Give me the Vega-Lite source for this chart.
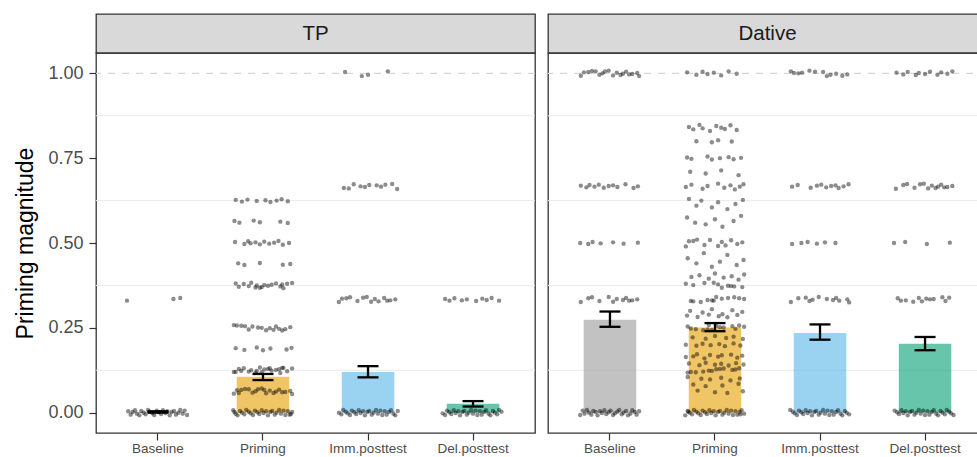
{
"$schema":"https://vega.github.io/schema/vega-lite/v6.json",
"background":"white",
"padding":{"left":14,"top":13,"right":0,"bottom":0},
"datasets":{
"bars":[
{"p":"TP","c":"Baseline","m":0.002,"lo":0.0,"hi":0.004},
{"p":"TP","c":"Priming","m":0.106,"lo":0.096,"hi":0.114},
{"p":"TP","c":"Imm.posttest","m":0.12,"lo":0.104,"hi":0.137},
{"p":"TP","c":"Del.posttest","m":0.026,"lo":0.018,"hi":0.034},
{"p":"Dative","c":"Baseline","m":0.274,"lo":0.253,"hi":0.298},
{"p":"Dative","c":"Priming","m":0.251,"lo":0.240,"hi":0.264},
{"p":"Dative","c":"Imm.posttest","m":0.235,"lo":0.215,"hi":0.260},
{"p":"Dative","c":"Del.posttest","m":0.203,"lo":0.184,"hi":0.223}
],
"grid":[{"g":0.125},{"g":0.375},{"g":0.625},{"g":0.875}],
"hline":[{"h":1}],
"pts":[
{"p":"TP","c":"Baseline","y":0.004,"j":-0.48},{"p":"TP","c":"Baseline","y":-0.006,"j":-0.44},{"p":"TP","c":"Baseline","y":0.002,"j":-0.41},{"p":"TP","c":"Baseline","y":0.007,"j":-0.37},{"p":"TP","c":"Baseline","y":-0.003,"j":-0.34},{"p":"TP","c":"Baseline","y":-0.008,"j":-0.30},{"p":"TP","c":"Baseline","y":0.005,"j":-0.27},{"p":"TP","c":"Baseline","y":0,"j":-0.23},{"p":"TP","c":"Baseline","y":-0.005,"j":-0.20},{"p":"TP","c":"Baseline","y":0.008,"j":-0.16},{"p":"TP","c":"Baseline","y":0.003,"j":-0.13},{"p":"TP","c":"Baseline","y":-0.002,"j":-0.09},{"p":"TP","c":"Baseline","y":-0.007,"j":-0.06},{"p":"TP","c":"Baseline","y":0.006,"j":-0.02},{"p":"TP","c":"Baseline","y":0.001,"j":0.01},{"p":"TP","c":"Baseline","y":-0.004,"j":0.05},{"p":"TP","c":"Baseline","y":0.007,"j":0.08},{"p":"TP","c":"Baseline","y":-0.001,"j":0.12},{"p":"TP","c":"Baseline","y":0.004,"j":0.15},{"p":"TP","c":"Baseline","y":-0.008,"j":0.19},{"p":"TP","c":"Baseline","y":0.002,"j":0.22},{"p":"TP","c":"Baseline","y":0.005,"j":0.26},{"p":"TP","c":"Baseline","y":-0.006,"j":0.29},{"p":"TP","c":"Baseline","y":0,"j":0.33},{"p":"TP","c":"Baseline","y":0.008,"j":0.36},{"p":"TP","c":"Baseline","y":-0.003,"j":0.40},{"p":"TP","c":"Baseline","y":0.006,"j":0.43},{"p":"TP","c":"Baseline","y":-0.007,"j":0.47},
{"p":"TP","c":"Baseline","y":0.33,"j":-0.5},{"p":"TP","c":"Baseline","y":0.335,"j":0.25},{"p":"TP","c":"Baseline","y":0.338,"j":0.36},
{"p":"TP","c":"Priming","y":0.007,"j":-0.48},{"p":"TP","c":"Priming","y":-0.003,"j":-0.44},{"p":"TP","c":"Priming","y":-0.008,"j":-0.41},{"p":"TP","c":"Priming","y":0.005,"j":-0.37},{"p":"TP","c":"Priming","y":0,"j":-0.34},{"p":"TP","c":"Priming","y":-0.005,"j":-0.30},{"p":"TP","c":"Priming","y":0.008,"j":-0.27},{"p":"TP","c":"Priming","y":0.003,"j":-0.23},{"p":"TP","c":"Priming","y":-0.002,"j":-0.20},{"p":"TP","c":"Priming","y":-0.007,"j":-0.16},{"p":"TP","c":"Priming","y":0.006,"j":-0.13},{"p":"TP","c":"Priming","y":0.001,"j":-0.09},{"p":"TP","c":"Priming","y":-0.004,"j":-0.06},{"p":"TP","c":"Priming","y":0.007,"j":-0.02},{"p":"TP","c":"Priming","y":-0.001,"j":0.01},{"p":"TP","c":"Priming","y":0.004,"j":0.05},{"p":"TP","c":"Priming","y":-0.008,"j":0.08},{"p":"TP","c":"Priming","y":0.002,"j":0.12},{"p":"TP","c":"Priming","y":0.005,"j":0.15},{"p":"TP","c":"Priming","y":-0.006,"j":0.19},{"p":"TP","c":"Priming","y":0,"j":0.22},{"p":"TP","c":"Priming","y":0.008,"j":0.26},{"p":"TP","c":"Priming","y":-0.003,"j":0.29},{"p":"TP","c":"Priming","y":0.006,"j":0.33},{"p":"TP","c":"Priming","y":-0.007,"j":0.36},{"p":"TP","c":"Priming","y":0.004,"j":0.40},{"p":"TP","c":"Priming","y":-0.006,"j":0.43},{"p":"TP","c":"Priming","y":0.002,"j":0.47},{"p":"TP","c":"Priming","y":0.002,"j":-0.46},{"p":"TP","c":"Priming","y":-0.004,"j":0.45},
{"p":"TP","c":"Priming","y":0.066,"j":-0.42},{"p":"TP","c":"Priming","y":0.058,"j":0.17},{"p":"TP","c":"Priming","y":0.069,"j":-0.08},{"p":"TP","c":"Priming","y":0.061,"j":0.36},{"p":"TP","c":"Priming","y":0.070,"j":-0.29},{"p":"TP","c":"Priming","y":0.057,"j":0.05},{"p":"TP","c":"Priming","y":0.064,"j":0.44},{"p":"TP","c":"Priming","y":0.059,"j":-0.17},{"p":"TP","c":"Priming","y":0.068,"j":0.26},{"p":"TP","c":"Priming","y":0.056,"j":-0.47},{"p":"TP","c":"Priming","y":0.065,"j":0.11},{"p":"TP","c":"Priming","y":0.067,"j":-0.35},{"p":"TP","c":"Priming","y":0.060,"j":0.31},{"p":"TP","c":"Priming","y":0.071,"j":-0.02},{"p":"TP","c":"Priming","y":0.062,"j":0.21},{"p":"TP","c":"Priming","y":0.069,"j":-0.23},{"p":"TP","c":"Priming","y":0.055,"j":0.47},{"p":"TP","c":"Priming","y":0.063,"j":-0.12},{"p":"TP","c":"Priming","y":0.067,"j":0.02},{"p":"TP","c":"Priming","y":0.058,"j":-0.39},
{"p":"TP","c":"Priming","y":0.128,"j":0.26},{"p":"TP","c":"Priming","y":0.120,"j":-0.47},{"p":"TP","c":"Priming","y":0.131,"j":0.11},{"p":"TP","c":"Priming","y":0.123,"j":-0.35},{"p":"TP","c":"Priming","y":0.132,"j":0.31},{"p":"TP","c":"Priming","y":0.119,"j":-0.02},{"p":"TP","c":"Priming","y":0.126,"j":0.21},{"p":"TP","c":"Priming","y":0.121,"j":-0.23},{"p":"TP","c":"Priming","y":0.130,"j":0.47},{"p":"TP","c":"Priming","y":0.118,"j":-0.12},{"p":"TP","c":"Priming","y":0.127,"j":0.02},{"p":"TP","c":"Priming","y":0.129,"j":-0.39},{"p":"TP","c":"Priming","y":0.122,"j":0.39},{"p":"TP","c":"Priming","y":0.133,"j":-0.05},{"p":"TP","c":"Priming","y":0.124,"j":0.14},{"p":"TP","c":"Priming","y":0.131,"j":-0.31},{"p":"TP","c":"Priming","y":0.117,"j":0.28},{"p":"TP","c":"Priming","y":0.125,"j":-0.19},{"p":"TP","c":"Priming","y":0.129,"j":0.08},{"p":"TP","c":"Priming","y":0.120,"j":-0.44},{"p":"TP","c":"Priming","y":0.132,"j":0.33},{"p":"TP","c":"Priming","y":0.123,"j":-0.10},
{"p":"TP","c":"Priming","y":0.19,"j":-0.44},{"p":"TP","c":"Priming","y":0.185,"j":-0.30},{"p":"TP","c":"Priming","y":0.192,"j":-0.10},{"p":"TP","c":"Priming","y":0.184,"j":0.0},{"p":"TP","c":"Priming","y":0.189,"j":0.12},{"p":"TP","c":"Priming","y":0.186,"j":0.38},{"p":"TP","c":"Priming","y":0.191,"j":0.46},
{"p":"TP","c":"Priming","y":0.257,"j":-0.42},{"p":"TP","c":"Priming","y":0.244,"j":0.17},{"p":"TP","c":"Priming","y":0.251,"j":-0.08},{"p":"TP","c":"Priming","y":0.246,"j":0.36},{"p":"TP","c":"Priming","y":0.255,"j":-0.29},{"p":"TP","c":"Priming","y":0.243,"j":0.05},{"p":"TP","c":"Priming","y":0.252,"j":0.44},{"p":"TP","c":"Priming","y":0.254,"j":-0.17},{"p":"TP","c":"Priming","y":0.247,"j":0.26},{"p":"TP","c":"Priming","y":0.258,"j":-0.47},{"p":"TP","c":"Priming","y":0.249,"j":0.11},{"p":"TP","c":"Priming","y":0.256,"j":-0.35},{"p":"TP","c":"Priming","y":0.242,"j":0.31},{"p":"TP","c":"Priming","y":0.25,"j":-0.02},{"p":"TP","c":"Priming","y":0.254,"j":0.21},{"p":"TP","c":"Priming","y":0.245,"j":-0.23},
{"p":"TP","c":"Priming","y":0.378,"j":0.31},{"p":"TP","c":"Priming","y":0.370,"j":-0.02},{"p":"TP","c":"Priming","y":0.381,"j":0.21},{"p":"TP","c":"Priming","y":0.373,"j":-0.23},{"p":"TP","c":"Priming","y":0.382,"j":0.47},{"p":"TP","c":"Priming","y":0.369,"j":-0.12},{"p":"TP","c":"Priming","y":0.376,"j":0.02},{"p":"TP","c":"Priming","y":0.371,"j":-0.39},{"p":"TP","c":"Priming","y":0.380,"j":0.39},{"p":"TP","c":"Priming","y":0.368,"j":-0.05},{"p":"TP","c":"Priming","y":0.377,"j":0.14},{"p":"TP","c":"Priming","y":0.379,"j":-0.31},{"p":"TP","c":"Priming","y":0.372,"j":0.28},{"p":"TP","c":"Priming","y":0.383,"j":-0.19},{"p":"TP","c":"Priming","y":0.374,"j":0.08},{"p":"TP","c":"Priming","y":0.381,"j":-0.44},{"p":"TP","c":"Priming","y":0.367,"j":0.33},{"p":"TP","c":"Priming","y":0.375,"j":-0.10},
{"p":"TP","c":"Priming","y":0.44,"j":-0.40},{"p":"TP","c":"Priming","y":0.435,"j":-0.30},{"p":"TP","c":"Priming","y":0.441,"j":-0.05},{"p":"TP","c":"Priming","y":0.436,"j":0.32},{"p":"TP","c":"Priming","y":0.438,"j":0.44},
{"p":"TP","c":"Priming","y":0.503,"j":-0.45},{"p":"TP","c":"Priming","y":0.497,"j":-0.30},{"p":"TP","c":"Priming","y":0.505,"j":-0.24},{"p":"TP","c":"Priming","y":0.499,"j":-0.20},{"p":"TP","c":"Priming","y":0.502,"j":-0.12},{"p":"TP","c":"Priming","y":0.496,"j":-0.05},{"p":"TP","c":"Priming","y":0.504,"j":0.02},{"p":"TP","c":"Priming","y":0.498,"j":0.10},{"p":"TP","c":"Priming","y":0.501,"j":0.18},{"p":"TP","c":"Priming","y":0.506,"j":0.25},{"p":"TP","c":"Priming","y":0.495,"j":0.32},{"p":"TP","c":"Priming","y":0.5,"j":0.42},
{"p":"TP","c":"Priming","y":0.565,"j":-0.46},{"p":"TP","c":"Priming","y":0.56,"j":-0.38},{"p":"TP","c":"Priming","y":0.566,"j":-0.15},{"p":"TP","c":"Priming","y":0.561,"j":-0.05},{"p":"TP","c":"Priming","y":0.563,"j":0.28},{"p":"TP","c":"Priming","y":0.559,"j":0.40},
{"p":"TP","c":"Priming","y":0.627,"j":-0.44},{"p":"TP","c":"Priming","y":0.622,"j":-0.34},{"p":"TP","c":"Priming","y":0.628,"j":-0.25},{"p":"TP","c":"Priming","y":0.624,"j":-0.10},{"p":"TP","c":"Priming","y":0.626,"j":0.04},{"p":"TP","c":"Priming","y":0.621,"j":0.12},{"p":"TP","c":"Priming","y":0.625,"j":0.22},{"p":"TP","c":"Priming","y":0.629,"j":0.30},{"p":"TP","c":"Priming","y":0.623,"j":0.40},
{"p":"TP","c":"Imm.posttest","y":0,"j":-0.47},{"p":"TP","c":"Imm.posttest","y":-0.005,"j":-0.43},{"p":"TP","c":"Imm.posttest","y":0.008,"j":-0.40},{"p":"TP","c":"Imm.posttest","y":0.003,"j":-0.36},{"p":"TP","c":"Imm.posttest","y":-0.002,"j":-0.33},{"p":"TP","c":"Imm.posttest","y":-0.007,"j":-0.29},{"p":"TP","c":"Imm.posttest","y":0.006,"j":-0.26},{"p":"TP","c":"Imm.posttest","y":0.001,"j":-0.22},{"p":"TP","c":"Imm.posttest","y":-0.004,"j":-0.19},{"p":"TP","c":"Imm.posttest","y":0.007,"j":-0.15},{"p":"TP","c":"Imm.posttest","y":-0.001,"j":-0.12},{"p":"TP","c":"Imm.posttest","y":0.004,"j":-0.08},{"p":"TP","c":"Imm.posttest","y":-0.008,"j":-0.05},{"p":"TP","c":"Imm.posttest","y":0.002,"j":-0.01},{"p":"TP","c":"Imm.posttest","y":0.005,"j":0.02},{"p":"TP","c":"Imm.posttest","y":-0.006,"j":0.06},{"p":"TP","c":"Imm.posttest","y":0,"j":0.09},{"p":"TP","c":"Imm.posttest","y":0.008,"j":0.13},{"p":"TP","c":"Imm.posttest","y":-0.003,"j":0.16},{"p":"TP","c":"Imm.posttest","y":0.006,"j":0.20},{"p":"TP","c":"Imm.posttest","y":-0.007,"j":0.23},{"p":"TP","c":"Imm.posttest","y":0.004,"j":0.27},{"p":"TP","c":"Imm.posttest","y":-0.006,"j":0.30},{"p":"TP","c":"Imm.posttest","y":0.002,"j":0.34},{"p":"TP","c":"Imm.posttest","y":0.007,"j":0.37},{"p":"TP","c":"Imm.posttest","y":-0.003,"j":0.41},{"p":"TP","c":"Imm.posttest","y":-0.008,"j":0.44},{"p":"TP","c":"Imm.posttest","y":0.005,"j":0.48},
{"p":"TP","c":"Imm.posttest","y":0.336,"j":-0.42},{"p":"TP","c":"Imm.posttest","y":0.328,"j":0.17},{"p":"TP","c":"Imm.posttest","y":0.339,"j":-0.08},{"p":"TP","c":"Imm.posttest","y":0.331,"j":0.36},{"p":"TP","c":"Imm.posttest","y":0.34,"j":-0.29},{"p":"TP","c":"Imm.posttest","y":0.327,"j":0.05},{"p":"TP","c":"Imm.posttest","y":0.334,"j":0.44},{"p":"TP","c":"Imm.posttest","y":0.329,"j":-0.17},{"p":"TP","c":"Imm.posttest","y":0.338,"j":0.26},{"p":"TP","c":"Imm.posttest","y":0.326,"j":-0.47},{"p":"TP","c":"Imm.posttest","y":0.335,"j":0.11},{"p":"TP","c":"Imm.posttest","y":0.337,"j":-0.35},{"p":"TP","c":"Imm.posttest","y":0.33,"j":0.31},{"p":"TP","c":"Imm.posttest","y":0.341,"j":-0.02},
{"p":"TP","c":"Imm.posttest","y":0.666,"j":0.21},{"p":"TP","c":"Imm.posttest","y":0.673,"j":-0.23},{"p":"TP","c":"Imm.posttest","y":0.659,"j":0.47},{"p":"TP","c":"Imm.posttest","y":0.667,"j":-0.12},{"p":"TP","c":"Imm.posttest","y":0.671,"j":0.02},{"p":"TP","c":"Imm.posttest","y":0.662,"j":-0.39},{"p":"TP","c":"Imm.posttest","y":0.674,"j":0.39},{"p":"TP","c":"Imm.posttest","y":0.665,"j":-0.05},{"p":"TP","c":"Imm.posttest","y":0.67,"j":0.14},{"p":"TP","c":"Imm.posttest","y":0.661,"j":-0.31},{"p":"TP","c":"Imm.posttest","y":0.672,"j":0.28},
{"p":"TP","c":"Imm.posttest","y":1.004,"j":-0.37},{"p":"TP","c":"Imm.posttest","y":0.992,"j":-0.10},{"p":"TP","c":"Imm.posttest","y":0.996,"j":0.0},{"p":"TP","c":"Imm.posttest","y":1.006,"j":0.32},
{"p":"TP","c":"Del.posttest","y":-0.002,"j":-0.49},{"p":"TP","c":"Del.posttest","y":-0.007,"j":-0.45},{"p":"TP","c":"Del.posttest","y":0.006,"j":-0.42},{"p":"TP","c":"Del.posttest","y":0.001,"j":-0.38},{"p":"TP","c":"Del.posttest","y":-0.004,"j":-0.35},{"p":"TP","c":"Del.posttest","y":0.007,"j":-0.31},{"p":"TP","c":"Del.posttest","y":-0.001,"j":-0.28},{"p":"TP","c":"Del.posttest","y":0.004,"j":-0.24},{"p":"TP","c":"Del.posttest","y":-0.008,"j":-0.21},{"p":"TP","c":"Del.posttest","y":0.002,"j":-0.17},{"p":"TP","c":"Del.posttest","y":0.005,"j":-0.14},{"p":"TP","c":"Del.posttest","y":-0.006,"j":-0.10},{"p":"TP","c":"Del.posttest","y":0,"j":-0.07},{"p":"TP","c":"Del.posttest","y":0.008,"j":-0.03},{"p":"TP","c":"Del.posttest","y":-0.003,"j":0.0},{"p":"TP","c":"Del.posttest","y":0.006,"j":0.04},{"p":"TP","c":"Del.posttest","y":-0.007,"j":0.07},{"p":"TP","c":"Del.posttest","y":0.004,"j":0.11},{"p":"TP","c":"Del.posttest","y":-0.006,"j":0.14},{"p":"TP","c":"Del.posttest","y":0.002,"j":0.18},{"p":"TP","c":"Del.posttest","y":0.007,"j":0.21},{"p":"TP","c":"Del.posttest","y":-0.003,"j":0.25},{"p":"TP","c":"Del.posttest","y":-0.008,"j":0.28},{"p":"TP","c":"Del.posttest","y":0.005,"j":0.32},{"p":"TP","c":"Del.posttest","y":0,"j":0.35},{"p":"TP","c":"Del.posttest","y":-0.005,"j":0.39},{"p":"TP","c":"Del.posttest","y":0.008,"j":0.42},{"p":"TP","c":"Del.posttest","y":0.003,"j":0.46},
{"p":"TP","c":"Del.posttest","y":0.335,"j":-0.45},{"p":"TP","c":"Del.posttest","y":0.33,"j":-0.38},{"p":"TP","c":"Del.posttest","y":0.337,"j":-0.30},{"p":"TP","c":"Del.posttest","y":0.331,"j":-0.18},{"p":"TP","c":"Del.posttest","y":0.334,"j":-0.10},{"p":"TP","c":"Del.posttest","y":0.329,"j":0.05},{"p":"TP","c":"Del.posttest","y":0.336,"j":0.15},{"p":"TP","c":"Del.posttest","y":0.332,"j":0.22},{"p":"TP","c":"Del.posttest","y":0.338,"j":0.30},{"p":"TP","c":"Del.posttest","y":0.33,"j":0.42},
{"p":"Dative","c":"Baseline","y":-0.007,"j":-0.48},{"p":"Dative","c":"Baseline","y":0.006,"j":-0.44},{"p":"Dative","c":"Baseline","y":-0.003,"j":-0.41},{"p":"Dative","c":"Baseline","y":0.008,"j":-0.37},{"p":"Dative","c":"Baseline","y":0,"j":-0.34},{"p":"Dative","c":"Baseline","y":-0.006,"j":-0.30},{"p":"Dative","c":"Baseline","y":0.005,"j":-0.27},{"p":"Dative","c":"Baseline","y":0.002,"j":-0.23},{"p":"Dative","c":"Baseline","y":-0.008,"j":-0.20},{"p":"Dative","c":"Baseline","y":0.004,"j":-0.16},{"p":"Dative","c":"Baseline","y":-0.001,"j":-0.13},{"p":"Dative","c":"Baseline","y":0.007,"j":-0.09},{"p":"Dative","c":"Baseline","y":-0.004,"j":-0.06},{"p":"Dative","c":"Baseline","y":0.001,"j":-0.02},{"p":"Dative","c":"Baseline","y":0.006,"j":0.01},{"p":"Dative","c":"Baseline","y":-0.007,"j":0.05},{"p":"Dative","c":"Baseline","y":-0.002,"j":0.08},{"p":"Dative","c":"Baseline","y":0.003,"j":0.12},{"p":"Dative","c":"Baseline","y":0.008,"j":0.15},{"p":"Dative","c":"Baseline","y":-0.005,"j":0.19},{"p":"Dative","c":"Baseline","y":0,"j":0.22},{"p":"Dative","c":"Baseline","y":0.005,"j":0.26},{"p":"Dative","c":"Baseline","y":-0.008,"j":0.29},{"p":"Dative","c":"Baseline","y":-0.003,"j":0.33},{"p":"Dative","c":"Baseline","y":0.007,"j":0.36},{"p":"Dative","c":"Baseline","y":0.002,"j":0.40},{"p":"Dative","c":"Baseline","y":-0.006,"j":0.43},{"p":"Dative","c":"Baseline","y":0.004,"j":0.47},
{"p":"Dative","c":"Baseline","y":0.331,"j":0.36},{"p":"Dative","c":"Baseline","y":0.34,"j":-0.29},{"p":"Dative","c":"Baseline","y":0.327,"j":0.05},{"p":"Dative","c":"Baseline","y":0.334,"j":0.44},{"p":"Dative","c":"Baseline","y":0.329,"j":-0.17},{"p":"Dative","c":"Baseline","y":0.338,"j":0.26},{"p":"Dative","c":"Baseline","y":0.326,"j":-0.47},{"p":"Dative","c":"Baseline","y":0.335,"j":0.11},{"p":"Dative","c":"Baseline","y":0.337,"j":-0.35},{"p":"Dative","c":"Baseline","y":0.33,"j":0.31},{"p":"Dative","c":"Baseline","y":0.341,"j":-0.02},{"p":"Dative","c":"Baseline","y":0.332,"j":0.21},
{"p":"Dative","c":"Baseline","y":0.5,"j":-0.48},{"p":"Dative","c":"Baseline","y":0.497,"j":-0.35},{"p":"Dative","c":"Baseline","y":0.503,"j":-0.28},{"p":"Dative","c":"Baseline","y":0.499,"j":-0.15},{"p":"Dative","c":"Baseline","y":0.502,"j":0.05},{"p":"Dative","c":"Baseline","y":0.498,"j":0.22},{"p":"Dative","c":"Baseline","y":0.501,"j":0.45},
{"p":"Dative","c":"Baseline","y":0.669,"j":-0.47},{"p":"Dative","c":"Baseline","y":0.664,"j":-0.38},{"p":"Dative","c":"Baseline","y":0.671,"j":-0.33},{"p":"Dative","c":"Baseline","y":0.666,"j":-0.25},{"p":"Dative","c":"Baseline","y":0.672,"j":-0.18},{"p":"Dative","c":"Baseline","y":0.663,"j":-0.10},{"p":"Dative","c":"Baseline","y":0.668,"j":-0.02},{"p":"Dative","c":"Baseline","y":0.67,"j":0.05},{"p":"Dative","c":"Baseline","y":0.665,"j":0.12},{"p":"Dative","c":"Baseline","y":0.673,"j":0.25},{"p":"Dative","c":"Baseline","y":0.662,"j":0.38},{"p":"Dative","c":"Baseline","y":0.667,"j":0.45},
{"p":"Dative","c":"Baseline","y":1.003,"j":-0.42},{"p":"Dative","c":"Baseline","y":0.995,"j":0.17},{"p":"Dative","c":"Baseline","y":1.006,"j":-0.08},{"p":"Dative","c":"Baseline","y":0.998,"j":0.36},{"p":"Dative","c":"Baseline","y":1.007,"j":-0.29},{"p":"Dative","c":"Baseline","y":0.994,"j":0.05},{"p":"Dative","c":"Baseline","y":1.001,"j":0.44},{"p":"Dative","c":"Baseline","y":0.996,"j":-0.17},{"p":"Dative","c":"Baseline","y":1.005,"j":0.26},{"p":"Dative","c":"Baseline","y":0.993,"j":-0.47},{"p":"Dative","c":"Baseline","y":1.002,"j":0.11},{"p":"Dative","c":"Baseline","y":1.004,"j":-0.35},{"p":"Dative","c":"Baseline","y":0.997,"j":0.31},{"p":"Dative","c":"Baseline","y":1.008,"j":-0.02},{"p":"Dative","c":"Baseline","y":0.999,"j":0.21},{"p":"Dative","c":"Baseline","y":1.006,"j":-0.23},{"p":"Dative","c":"Baseline","y":0.992,"j":0.47},{"p":"Dative","c":"Baseline","y":1.0,"j":-0.12},
{"p":"Dative","c":"Priming","y":-0.008,"j":-0.48},{"p":"Dative","c":"Priming","y":0.005,"j":-0.44},{"p":"Dative","c":"Priming","y":0,"j":-0.41},{"p":"Dative","c":"Priming","y":-0.005,"j":-0.37},{"p":"Dative","c":"Priming","y":0.008,"j":-0.34},{"p":"Dative","c":"Priming","y":0.003,"j":-0.30},{"p":"Dative","c":"Priming","y":-0.002,"j":-0.27},{"p":"Dative","c":"Priming","y":-0.007,"j":-0.23},{"p":"Dative","c":"Priming","y":0.006,"j":-0.20},{"p":"Dative","c":"Priming","y":0.001,"j":-0.16},{"p":"Dative","c":"Priming","y":-0.004,"j":-0.13},{"p":"Dative","c":"Priming","y":0.007,"j":-0.09},{"p":"Dative","c":"Priming","y":-0.001,"j":-0.06},{"p":"Dative","c":"Priming","y":0.004,"j":-0.02},{"p":"Dative","c":"Priming","y":-0.008,"j":0.01},{"p":"Dative","c":"Priming","y":0.002,"j":0.05},{"p":"Dative","c":"Priming","y":0.005,"j":0.08},{"p":"Dative","c":"Priming","y":-0.006,"j":0.12},{"p":"Dative","c":"Priming","y":0,"j":0.15},{"p":"Dative","c":"Priming","y":0.008,"j":0.19},{"p":"Dative","c":"Priming","y":-0.003,"j":0.22},{"p":"Dative","c":"Priming","y":0.006,"j":0.26},{"p":"Dative","c":"Priming","y":-0.007,"j":0.29},{"p":"Dative","c":"Priming","y":0.004,"j":0.33},{"p":"Dative","c":"Priming","y":-0.006,"j":0.36},{"p":"Dative","c":"Priming","y":0.002,"j":0.40},{"p":"Dative","c":"Priming","y":0.007,"j":0.43},{"p":"Dative","c":"Priming","y":-0.003,"j":0.47},{"p":"Dative","c":"Priming","y":0.003,"j":-0.43},{"p":"Dative","c":"Priming","y":-0.005,"j":0.41},
{"p":"Dative","c":"Priming","y":1.003,"j":-0.45},{"p":"Dative","c":"Priming","y":0.996,"j":-0.30},{"p":"Dative","c":"Priming","y":1.005,"j":-0.20},{"p":"Dative","c":"Priming","y":0.998,"j":-0.12},{"p":"Dative","c":"Priming","y":1.002,"j":-0.02},{"p":"Dative","c":"Priming","y":0.994,"j":0.10},{"p":"Dative","c":"Priming","y":1.006,"j":0.22},{"p":"Dative","c":"Priming","y":0.999,"j":0.35},
{"p":"Dative","c":"Priming","y":0.842,"j":-0.42},{"p":"Dative","c":"Priming","y":0.835,"j":-0.35},{"p":"Dative","c":"Priming","y":0.848,"j":-0.25},{"p":"Dative","c":"Priming","y":0.838,"j":-0.20},{"p":"Dative","c":"Priming","y":0.83,"j":-0.08},{"p":"Dative","c":"Priming","y":0.845,"j":0.02},{"p":"Dative","c":"Priming","y":0.84,"j":0.10},{"p":"Dative","c":"Priming","y":0.836,"j":0.16},{"p":"Dative","c":"Priming","y":0.847,"j":0.25},{"p":"Dative","c":"Priming","y":0.833,"j":0.35},
{"p":"Dative","c":"Priming","y":0.8,"j":-0.30},{"p":"Dative","c":"Priming","y":0.797,"j":-0.05},{"p":"Dative","c":"Priming","y":0.803,"j":0.05},{"p":"Dative","c":"Priming","y":0.799,"j":0.27},
{"p":"Dative","c":"Priming","y":0.752,"j":-0.45},{"p":"Dative","c":"Priming","y":0.748,"j":-0.38},{"p":"Dative","c":"Priming","y":0.755,"j":-0.12},{"p":"Dative","c":"Priming","y":0.746,"j":-0.05},{"p":"Dative","c":"Priming","y":0.75,"j":0.08},{"p":"Dative","c":"Priming","y":0.753,"j":0.22},{"p":"Dative","c":"Priming","y":0.747,"j":0.30},{"p":"Dative","c":"Priming","y":0.751,"j":0.42},
{"p":"Dative","c":"Priming","y":0.71,"j":-0.40},{"p":"Dative","c":"Priming","y":0.705,"j":-0.15},{"p":"Dative","c":"Priming","y":0.714,"j":0.10},{"p":"Dative","c":"Priming","y":0.70,"j":0.38},
{"p":"Dative","c":"Priming","y":0.665,"j":-0.47},{"p":"Dative","c":"Priming","y":0.672,"j":-0.38},{"p":"Dative","c":"Priming","y":0.66,"j":-0.20},{"p":"Dative","c":"Priming","y":0.668,"j":-0.12},{"p":"Dative","c":"Priming","y":0.675,"j":0.05},{"p":"Dative","c":"Priming","y":0.663,"j":0.15},{"p":"Dative","c":"Priming","y":0.67,"j":0.25},{"p":"Dative","c":"Priming","y":0.658,"j":0.32},{"p":"Dative","c":"Priming","y":0.666,"j":0.40},{"p":"Dative","c":"Priming","y":0.673,"j":0.46},
{"p":"Dative","c":"Priming","y":0.63,"j":-0.42},{"p":"Dative","c":"Priming","y":0.61,"j":-0.30},{"p":"Dative","c":"Priming","y":0.625,"j":-0.22},{"p":"Dative","c":"Priming","y":0.605,"j":-0.05},{"p":"Dative","c":"Priming","y":0.62,"j":0.05},{"p":"Dative","c":"Priming","y":0.60,"j":0.20},{"p":"Dative","c":"Priming","y":0.615,"j":0.33},{"p":"Dative","c":"Priming","y":0.627,"j":0.45},
{"p":"Dative","c":"Priming","y":0.575,"j":-0.45},{"p":"Dative","c":"Priming","y":0.56,"j":-0.32},{"p":"Dative","c":"Priming","y":0.555,"j":-0.15},{"p":"Dative","c":"Priming","y":0.57,"j":0.0},{"p":"Dative","c":"Priming","y":0.548,"j":0.12},{"p":"Dative","c":"Priming","y":0.565,"j":0.30},{"p":"Dative","c":"Priming","y":0.58,"j":0.42},
{"p":"Dative","c":"Priming","y":0.505,"j":-0.42},{"p":"Dative","c":"Priming","y":0.493,"j":0.17},{"p":"Dative","c":"Priming","y":0.509,"j":-0.08},{"p":"Dative","c":"Priming","y":0.497,"j":0.36},{"p":"Dative","c":"Priming","y":0.51,"j":-0.29},{"p":"Dative","c":"Priming","y":0.491,"j":0.05},{"p":"Dative","c":"Priming","y":0.502,"j":0.44},{"p":"Dative","c":"Priming","y":0.494,"j":-0.17},{"p":"Dative","c":"Priming","y":0.508,"j":0.26},{"p":"Dative","c":"Priming","y":0.49,"j":-0.47},{"p":"Dative","c":"Priming","y":0.503,"j":0.11},{"p":"Dative","c":"Priming","y":0.506,"j":-0.35},
{"p":"Dative","c":"Priming","y":0.455,"j":-0.44},{"p":"Dative","c":"Priming","y":0.44,"j":-0.30},{"p":"Dative","c":"Priming","y":0.47,"j":-0.18},{"p":"Dative","c":"Priming","y":0.43,"j":-0.05},{"p":"Dative","c":"Priming","y":0.445,"j":0.08},{"p":"Dative","c":"Priming","y":0.465,"j":0.20},{"p":"Dative","c":"Priming","y":0.435,"j":0.35},{"p":"Dative","c":"Priming","y":0.45,"j":0.46},
{"p":"Dative","c":"Priming","y":0.4,"j":-0.38},{"p":"Dative","c":"Priming","y":0.405,"j":-0.25},{"p":"Dative","c":"Priming","y":0.395,"j":-0.10},{"p":"Dative","c":"Priming","y":0.41,"j":0.0},{"p":"Dative","c":"Priming","y":0.398,"j":0.14},{"p":"Dative","c":"Priming","y":0.402,"j":0.27},{"p":"Dative","c":"Priming","y":0.392,"j":0.38},{"p":"Dative","c":"Priming","y":0.407,"j":0.47},
{"p":"Dative","c":"Priming","y":0.378,"j":0.05},{"p":"Dative","c":"Priming","y":0.37,"j":0.44},{"p":"Dative","c":"Priming","y":0.382,"j":-0.17},{"p":"Dative","c":"Priming","y":0.373,"j":0.26},{"p":"Dative","c":"Priming","y":0.38,"j":-0.47},{"p":"Dative","c":"Priming","y":0.368,"j":0.11},{"p":"Dative","c":"Priming","y":0.376,"j":-0.35},{"p":"Dative","c":"Priming","y":0.372,"j":0.31},{"p":"Dative","c":"Priming","y":0.383,"j":-0.02},{"p":"Dative","c":"Priming","y":0.374,"j":0.21},
{"p":"Dative","c":"Priming","y":0.336,"j":0.11},{"p":"Dative","c":"Priming","y":0.328,"j":-0.35},{"p":"Dative","c":"Priming","y":0.34,"j":0.31},{"p":"Dative","c":"Priming","y":0.33,"j":-0.02},{"p":"Dative","c":"Priming","y":0.338,"j":0.21},{"p":"Dative","c":"Priming","y":0.326,"j":-0.23},{"p":"Dative","c":"Priming","y":0.335,"j":0.47},{"p":"Dative","c":"Priming","y":0.332,"j":-0.12},{"p":"Dative","c":"Priming","y":0.341,"j":0.02},{"p":"Dative","c":"Priming","y":0.329,"j":-0.39},{"p":"Dative","c":"Priming","y":0.337,"j":0.39},{"p":"Dative","c":"Priming","y":0.331,"j":-0.05},
{"p":"Dative","c":"Priming","y":0.3,"j":-0.40},{"p":"Dative","c":"Priming","y":0.295,"j":-0.20},{"p":"Dative","c":"Priming","y":0.305,"j":-0.05},{"p":"Dative","c":"Priming","y":0.29,"j":0.12},{"p":"Dative","c":"Priming","y":0.302,"j":0.28},{"p":"Dative","c":"Priming","y":0.297,"j":0.44},
{"p":"Dative","c":"Priming","y":0.286,"j":-0.45},{"p":"Dative","c":"Priming","y":0.282,"j":-0.28},{"p":"Dative","c":"Priming","y":0.289,"j":-0.10},{"p":"Dative","c":"Priming","y":0.284,"j":0.06},{"p":"Dative","c":"Priming","y":0.281,"j":0.20},{"p":"Dative","c":"Priming","y":0.288,"j":0.36},
{"p":"Dative","c":"Priming","y":0.253,"j":0.47},{"p":"Dative","c":"Priming","y":0.245,"j":-0.12},{"p":"Dative","c":"Priming","y":0.256,"j":0.02},{"p":"Dative","c":"Priming","y":0.248,"j":-0.39},{"p":"Dative","c":"Priming","y":0.257,"j":0.39},{"p":"Dative","c":"Priming","y":0.244,"j":-0.05},{"p":"Dative","c":"Priming","y":0.251,"j":0.14},{"p":"Dative","c":"Priming","y":0.246,"j":-0.31},{"p":"Dative","c":"Priming","y":0.255,"j":0.28},{"p":"Dative","c":"Priming","y":0.243,"j":-0.19},{"p":"Dative","c":"Priming","y":0.252,"j":0.08},{"p":"Dative","c":"Priming","y":0.254,"j":-0.44},{"p":"Dative","c":"Priming","y":0.247,"j":0.33},{"p":"Dative","c":"Priming","y":0.258,"j":-0.10},
{"p":"Dative","c":"Priming","y":0.222,"j":-0.36},{"p":"Dative","c":"Priming","y":0.218,"j":-0.15},{"p":"Dative","c":"Priming","y":0.226,"j":0.0},{"p":"Dative","c":"Priming","y":0.22,"j":0.18},{"p":"Dative","c":"Priming","y":0.224,"j":0.30},{"p":"Dative","c":"Priming","y":0.217,"j":0.45},
{"p":"Dative","c":"Priming","y":0.2,"j":-0.47},{"p":"Dative","c":"Priming","y":0.197,"j":-0.30},{"p":"Dative","c":"Priming","y":0.203,"j":-0.20},{"p":"Dative","c":"Priming","y":0.199,"j":-0.07},{"p":"Dative","c":"Priming","y":0.202,"j":0.07},{"p":"Dative","c":"Priming","y":0.196,"j":0.16},{"p":"Dative","c":"Priming","y":0.204,"j":0.30},{"p":"Dative","c":"Priming","y":0.198,"j":0.41},
{"p":"Dative","c":"Priming","y":0.17,"j":-0.08},{"p":"Dative","c":"Priming","y":0.162,"j":0.36},{"p":"Dative","c":"Priming","y":0.172,"j":-0.29},{"p":"Dative","c":"Priming","y":0.165,"j":0.05},{"p":"Dative","c":"Priming","y":0.168,"j":0.44},{"p":"Dative","c":"Priming","y":0.16,"j":-0.17},{"p":"Dative","c":"Priming","y":0.171,"j":0.26},{"p":"Dative","c":"Priming","y":0.164,"j":-0.47},{"p":"Dative","c":"Priming","y":0.169,"j":0.11},{"p":"Dative","c":"Priming","y":0.166,"j":-0.35},
{"p":"Dative","c":"Priming","y":0.145,"j":-0.42},{"p":"Dative","c":"Priming","y":0.14,"j":-0.25},{"p":"Dative","c":"Priming","y":0.147,"j":-0.15},{"p":"Dative","c":"Priming","y":0.141,"j":0.0},{"p":"Dative","c":"Priming","y":0.144,"j":0.10},{"p":"Dative","c":"Priming","y":0.139,"j":0.22},{"p":"Dative","c":"Priming","y":0.146,"j":0.34},{"p":"Dative","c":"Priming","y":0.142,"j":0.46},
{"p":"Dative","c":"Priming","y":0.128,"j":0.02},{"p":"Dative","c":"Priming","y":0.12,"j":-0.39},{"p":"Dative","c":"Priming","y":0.131,"j":0.39},{"p":"Dative","c":"Priming","y":0.123,"j":-0.05},{"p":"Dative","c":"Priming","y":0.13,"j":0.14},{"p":"Dative","c":"Priming","y":0.119,"j":-0.31},{"p":"Dative","c":"Priming","y":0.126,"j":0.28},{"p":"Dative","c":"Priming","y":0.121,"j":-0.19},{"p":"Dative","c":"Priming","y":0.129,"j":0.08},{"p":"Dative","c":"Priming","y":0.118,"j":-0.44},{"p":"Dative","c":"Priming","y":0.127,"j":0.33},{"p":"Dative","c":"Priming","y":0.124,"j":-0.10},
{"p":"Dative","c":"Priming","y":0.105,"j":-0.44},{"p":"Dative","c":"Priming","y":0.1,"j":-0.22},{"p":"Dative","c":"Priming","y":0.098,"j":-0.08},{"p":"Dative","c":"Priming","y":0.103,"j":0.10},{"p":"Dative","c":"Priming","y":0.095,"j":0.25},{"p":"Dative","c":"Priming","y":0.101,"j":0.40},
{"p":"Dative","c":"Priming","y":0.083,"j":-0.35},{"p":"Dative","c":"Priming","y":0.078,"j":-0.15},{"p":"Dative","c":"Priming","y":0.08,"j":0.12},{"p":"Dative","c":"Priming","y":0.085,"j":0.38},
{"p":"Dative","c":"Priming","y":0.065,"j":-0.28},{"p":"Dative","c":"Priming","y":0.06,"j":0.0},{"p":"Dative","c":"Priming","y":0.058,"j":0.20},{"p":"Dative","c":"Priming","y":0.063,"j":0.45},
{"p":"Dative","c":"Imm.posttest","y":0.008,"j":-0.48},{"p":"Dative","c":"Imm.posttest","y":0.003,"j":-0.44},{"p":"Dative","c":"Imm.posttest","y":-0.002,"j":-0.41},{"p":"Dative","c":"Imm.posttest","y":-0.007,"j":-0.37},{"p":"Dative","c":"Imm.posttest","y":0.006,"j":-0.34},{"p":"Dative","c":"Imm.posttest","y":0.001,"j":-0.30},{"p":"Dative","c":"Imm.posttest","y":-0.004,"j":-0.27},{"p":"Dative","c":"Imm.posttest","y":0.007,"j":-0.23},{"p":"Dative","c":"Imm.posttest","y":-0.001,"j":-0.20},{"p":"Dative","c":"Imm.posttest","y":0.004,"j":-0.16},{"p":"Dative","c":"Imm.posttest","y":-0.008,"j":-0.13},{"p":"Dative","c":"Imm.posttest","y":0.002,"j":-0.09},{"p":"Dative","c":"Imm.posttest","y":0.005,"j":-0.06},{"p":"Dative","c":"Imm.posttest","y":-0.006,"j":-0.02},{"p":"Dative","c":"Imm.posttest","y":0,"j":0.01},{"p":"Dative","c":"Imm.posttest","y":0.008,"j":0.05},{"p":"Dative","c":"Imm.posttest","y":-0.003,"j":0.08},{"p":"Dative","c":"Imm.posttest","y":0.006,"j":0.12},{"p":"Dative","c":"Imm.posttest","y":-0.007,"j":0.15},{"p":"Dative","c":"Imm.posttest","y":0.004,"j":0.19},{"p":"Dative","c":"Imm.posttest","y":-0.006,"j":0.22},{"p":"Dative","c":"Imm.posttest","y":0.002,"j":0.26},{"p":"Dative","c":"Imm.posttest","y":0.007,"j":0.29},{"p":"Dative","c":"Imm.posttest","y":-0.003,"j":0.33},{"p":"Dative","c":"Imm.posttest","y":-0.008,"j":0.36},{"p":"Dative","c":"Imm.posttest","y":0.005,"j":0.40},{"p":"Dative","c":"Imm.posttest","y":0,"j":0.43},{"p":"Dative","c":"Imm.posttest","y":-0.005,"j":0.47},
{"p":"Dative","c":"Imm.posttest","y":0.334,"j":0.44},{"p":"Dative","c":"Imm.posttest","y":0.329,"j":-0.17},{"p":"Dative","c":"Imm.posttest","y":0.338,"j":0.26},{"p":"Dative","c":"Imm.posttest","y":0.326,"j":-0.47},{"p":"Dative","c":"Imm.posttest","y":0.335,"j":0.11},{"p":"Dative","c":"Imm.posttest","y":0.337,"j":-0.35},{"p":"Dative","c":"Imm.posttest","y":0.33,"j":0.31},{"p":"Dative","c":"Imm.posttest","y":0.341,"j":-0.02},{"p":"Dative","c":"Imm.posttest","y":0.332,"j":0.21},{"p":"Dative","c":"Imm.posttest","y":0.339,"j":-0.23},{"p":"Dative","c":"Imm.posttest","y":0.325,"j":0.47},{"p":"Dative","c":"Imm.posttest","y":0.333,"j":-0.12},
{"p":"Dative","c":"Imm.posttest","y":0.497,"j":-0.45},{"p":"Dative","c":"Imm.posttest","y":0.5,"j":-0.30},{"p":"Dative","c":"Imm.posttest","y":0.503,"j":-0.20},{"p":"Dative","c":"Imm.posttest","y":0.498,"j":-0.05},{"p":"Dative","c":"Imm.posttest","y":0.502,"j":0.08},{"p":"Dative","c":"Imm.posttest","y":0.5,"j":0.25},
{"p":"Dative","c":"Imm.posttest","y":0.666,"j":-0.45},{"p":"Dative","c":"Imm.posttest","y":0.671,"j":-0.36},{"p":"Dative","c":"Imm.posttest","y":0.663,"j":-0.15},{"p":"Dative","c":"Imm.posttest","y":0.669,"j":-0.05},{"p":"Dative","c":"Imm.posttest","y":0.672,"j":0.02},{"p":"Dative","c":"Imm.posttest","y":0.664,"j":0.10},{"p":"Dative","c":"Imm.posttest","y":0.668,"j":0.18},{"p":"Dative","c":"Imm.posttest","y":0.67,"j":0.25},{"p":"Dative","c":"Imm.posttest","y":0.662,"j":0.30},{"p":"Dative","c":"Imm.posttest","y":0.667,"j":0.38},{"p":"Dative","c":"Imm.posttest","y":0.673,"j":0.46},
{"p":"Dative","c":"Imm.posttest","y":1.001,"j":-0.42},{"p":"Dative","c":"Imm.posttest","y":0.996,"j":0.17},{"p":"Dative","c":"Imm.posttest","y":1.005,"j":-0.08},{"p":"Dative","c":"Imm.posttest","y":0.993,"j":0.36},{"p":"Dative","c":"Imm.posttest","y":1.002,"j":-0.29},{"p":"Dative","c":"Imm.posttest","y":1.004,"j":0.05},{"p":"Dative","c":"Imm.posttest","y":0.997,"j":0.44},{"p":"Dative","c":"Imm.posttest","y":1.008,"j":-0.17},{"p":"Dative","c":"Imm.posttest","y":0.999,"j":0.26},{"p":"Dative","c":"Imm.posttest","y":1.006,"j":-0.47},{"p":"Dative","c":"Imm.posttest","y":0.992,"j":0.11},{"p":"Dative","c":"Imm.posttest","y":1.0,"j":-0.35},
{"p":"Dative","c":"Del.posttest","y":0.006,"j":-0.49},{"p":"Dative","c":"Del.posttest","y":0.001,"j":-0.45},{"p":"Dative","c":"Del.posttest","y":-0.004,"j":-0.42},{"p":"Dative","c":"Del.posttest","y":0.007,"j":-0.38},{"p":"Dative","c":"Del.posttest","y":-0.001,"j":-0.35},{"p":"Dative","c":"Del.posttest","y":0.004,"j":-0.31},{"p":"Dative","c":"Del.posttest","y":-0.008,"j":-0.28},{"p":"Dative","c":"Del.posttest","y":0.002,"j":-0.24},{"p":"Dative","c":"Del.posttest","y":0.005,"j":-0.21},{"p":"Dative","c":"Del.posttest","y":-0.006,"j":-0.17},{"p":"Dative","c":"Del.posttest","y":0,"j":-0.14},{"p":"Dative","c":"Del.posttest","y":0.008,"j":-0.10},{"p":"Dative","c":"Del.posttest","y":-0.003,"j":-0.07},{"p":"Dative","c":"Del.posttest","y":0.006,"j":-0.03},{"p":"Dative","c":"Del.posttest","y":-0.007,"j":0.0},{"p":"Dative","c":"Del.posttest","y":0.004,"j":0.04},{"p":"Dative","c":"Del.posttest","y":-0.006,"j":0.07},{"p":"Dative","c":"Del.posttest","y":0.002,"j":0.11},{"p":"Dative","c":"Del.posttest","y":0.007,"j":0.14},{"p":"Dative","c":"Del.posttest","y":-0.003,"j":0.18},{"p":"Dative","c":"Del.posttest","y":-0.008,"j":0.21},{"p":"Dative","c":"Del.posttest","y":0.005,"j":0.25},{"p":"Dative","c":"Del.posttest","y":0,"j":0.28},{"p":"Dative","c":"Del.posttest","y":-0.005,"j":0.32},{"p":"Dative","c":"Del.posttest","y":0.008,"j":0.35},{"p":"Dative","c":"Del.posttest","y":0.003,"j":0.39},{"p":"Dative","c":"Del.posttest","y":-0.002,"j":0.42},{"p":"Dative","c":"Del.posttest","y":-0.007,"j":0.46},
{"p":"Dative","c":"Del.posttest","y":0.336,"j":0.02},{"p":"Dative","c":"Del.posttest","y":0.33,"j":-0.39},{"p":"Dative","c":"Del.posttest","y":0.339,"j":0.39},{"p":"Dative","c":"Del.posttest","y":0.328,"j":-0.05},{"p":"Dative","c":"Del.posttest","y":0.335,"j":0.14},{"p":"Dative","c":"Del.posttest","y":0.331,"j":-0.31},{"p":"Dative","c":"Del.posttest","y":0.34,"j":0.28},{"p":"Dative","c":"Del.posttest","y":0.327,"j":-0.19},{"p":"Dative","c":"Del.posttest","y":0.334,"j":0.08},{"p":"Dative","c":"Del.posttest","y":0.337,"j":-0.44},{"p":"Dative","c":"Del.posttest","y":0.329,"j":0.33},{"p":"Dative","c":"Del.posttest","y":0.338,"j":-0.10},
{"p":"Dative","c":"Del.posttest","y":0.5,"j":-0.50},{"p":"Dative","c":"Del.posttest","y":0.503,"j":-0.32},{"p":"Dative","c":"Del.posttest","y":0.497,"j":0.03},{"p":"Dative","c":"Del.posttest","y":0.501,"j":0.40},
{"p":"Dative","c":"Del.posttest","y":0.662,"j":0.17},{"p":"Dative","c":"Del.posttest","y":0.673,"j":-0.08},{"p":"Dative","c":"Del.posttest","y":0.665,"j":0.36},{"p":"Dative","c":"Del.posttest","y":0.674,"j":-0.29},{"p":"Dative","c":"Del.posttest","y":0.661,"j":0.05},{"p":"Dative","c":"Del.posttest","y":0.668,"j":0.44},{"p":"Dative","c":"Del.posttest","y":0.663,"j":-0.17},{"p":"Dative","c":"Del.posttest","y":0.672,"j":0.26},{"p":"Dative","c":"Del.posttest","y":0.66,"j":-0.47},{"p":"Dative","c":"Del.posttest","y":0.669,"j":0.11},{"p":"Dative","c":"Del.posttest","y":0.671,"j":-0.35},{"p":"Dative","c":"Del.posttest","y":0.664,"j":0.31},{"p":"Dative","c":"Del.posttest","y":0.675,"j":-0.02},{"p":"Dative","c":"Del.posttest","y":0.666,"j":0.21},
{"p":"Dative","c":"Del.posttest","y":1.002,"j":-0.46},{"p":"Dative","c":"Del.posttest","y":0.997,"j":-0.35},{"p":"Dative","c":"Del.posttest","y":1.004,"j":-0.28},{"p":"Dative","c":"Del.posttest","y":0.995,"j":-0.15},{"p":"Dative","c":"Del.posttest","y":1.001,"j":-0.10},{"p":"Dative","c":"Del.posttest","y":0.998,"j":0.0},{"p":"Dative","c":"Del.posttest","y":1.005,"j":0.08},{"p":"Dative","c":"Del.posttest","y":0.996,"j":0.20},{"p":"Dative","c":"Del.posttest","y":1.003,"j":0.26},{"p":"Dative","c":"Del.posttest","y":0.999,"j":0.36},{"p":"Dative","c":"Del.posttest","y":1.006,"j":0.44}
]
},
"concat":[
{"width":439,"height":39,"data":{"values":[{"label":"TP"}]},"mark":{"type":"text","fontSize":20.5,"color":"#1a1a1a"},"encoding":{"text":{"field":"label","type":"nominal"}},"view":{"fill":"#d9d9d9","stroke":"#333333","strokeWidth":1.3}},
{"width":439,"height":39,"data":{"values":[{"label":"Dative"}]},"mark":{"type":"text","fontSize":20.5,"color":"#1a1a1a"},"encoding":{"text":{"field":"label","type":"nominal"}},"view":{"fill":"#d9d9d9","stroke":"#333333","strokeWidth":1.3}},
{"width":439,"height":380,
"resolve":{"scale":{"xOffset":"independent"}},
"layer":[
{"data":{"name":"grid"},"mark":{"type":"rule","color":"#ebebeb","strokeWidth":1},"encoding":{"y":{"field":"g","type":"quantitative","scale":{"domain":[-0.06,1.06],"nice":false,"zero":false},"axis":{"title":"Priming magnitude","values":[0,0.25,0.5,0.75,1],"format":".2f"}}}},
{"data":{"name":"hline"},"mark":{"type":"rule","color":"#d6d6d6","strokeDash":[7,7],"strokeWidth":1.2},"encoding":{"y":{"field":"h","type":"quantitative","scale":{"domain":[-0.06,1.06],"nice":false,"zero":false},"axis":{"title":"Priming magnitude","values":[0,0.25,0.5,0.75,1],"format":".2f"}}}},
{"data":{"name":"bars"},"transform":[{"filter":"datum.p==='TP'"}],"mark":{"type":"bar","opacity":0.6},"encoding":{"x":{"field":"c","type":"nominal","sort":["Baseline","Priming","Imm.posttest","Del.posttest"],"scale":{"paddingInner":0.5,"paddingOuter":0.34},"axis":{"title":null,"labelAngle":0}},"y":{"field":"m","type":"quantitative","scale":{"domain":[-0.06,1.06],"nice":false,"zero":false},"axis":{"title":"Priming magnitude","values":[0,0.25,0.5,0.75,1],"format":".2f"}},"color":{"field":"c","type":"nominal","scale":{"domain":["Baseline","Priming","Imm.posttest","Del.posttest"],"range":["#999999","#E69F00","#56B4E9","#009E73"]},"legend":null}}},
{"data":{"name":"pts"},"transform":[{"filter":"datum.p==='TP'"}],"mark":{"type":"circle","color":"#000000","opacity":0.45,"size":19},"encoding":{"x":{"field":"c","type":"nominal","sort":["Baseline","Priming","Imm.posttest","Del.posttest"],"scale":{"paddingInner":0.5,"paddingOuter":0.34},"axis":{"title":null,"labelAngle":0}},"xOffset":{"field":"j","type":"quantitative","scale":{"domain":[-0.5,0.5],"range":[-4.75,57.25]}},"y":{"field":"y","type":"quantitative","scale":{"domain":[-0.06,1.06],"nice":false,"zero":false},"axis":{"title":"Priming magnitude","values":[0,0.25,0.5,0.75,1],"format":".2f"}}}},
{"data":{"name":"bars"},"transform":[{"filter":"datum.p==='TP'"}],"mark":{"type":"rule","color":"#000000","strokeWidth":2.3},"encoding":{"x":{"field":"c","type":"nominal","sort":["Baseline","Priming","Imm.posttest","Del.posttest"],"scale":{"paddingInner":0.5,"paddingOuter":0.34},"axis":{"title":null,"labelAngle":0}},"y":{"field":"lo","type":"quantitative","scale":{"domain":[-0.06,1.06],"nice":false,"zero":false},"axis":{"title":"Priming magnitude","values":[0,0.25,0.5,0.75,1],"format":".2f"}},"y2":{"field":"hi"}}},
{"data":{"name":"bars"},"transform":[{"filter":"datum.p==='TP'"}],"mark":{"type":"tick","color":"#000000","size":21,"thickness":2.3,"opacity":1},"encoding":{"x":{"field":"c","type":"nominal","sort":["Baseline","Priming","Imm.posttest","Del.posttest"],"scale":{"paddingInner":0.5,"paddingOuter":0.34},"axis":{"title":null,"labelAngle":0}},"y":{"field":"lo","type":"quantitative","scale":{"domain":[-0.06,1.06],"nice":false,"zero":false},"axis":{"title":"Priming magnitude","values":[0,0.25,0.5,0.75,1],"format":".2f"}}}},
{"data":{"name":"bars"},"transform":[{"filter":"datum.p==='TP'"}],"mark":{"type":"tick","color":"#000000","size":21,"thickness":2.3,"opacity":1},"encoding":{"x":{"field":"c","type":"nominal","sort":["Baseline","Priming","Imm.posttest","Del.posttest"],"scale":{"paddingInner":0.5,"paddingOuter":0.34},"axis":{"title":null,"labelAngle":0}},"y":{"field":"hi","type":"quantitative","scale":{"domain":[-0.06,1.06],"nice":false,"zero":false},"axis":{"title":"Priming magnitude","values":[0,0.25,0.5,0.75,1],"format":".2f"}}}}
]},
{"width":439,"height":380,
"resolve":{"scale":{"xOffset":"independent"}},
"layer":[
{"data":{"name":"grid"},"mark":{"type":"rule","color":"#ebebeb","strokeWidth":1},"encoding":{"y":{"field":"g","type":"quantitative","scale":{"domain":[-0.06,1.06],"nice":false,"zero":false},"axis":null}}},
{"data":{"name":"hline"},"mark":{"type":"rule","color":"#d6d6d6","strokeDash":[7,7],"strokeWidth":1.2},"encoding":{"y":{"field":"h","type":"quantitative","scale":{"domain":[-0.06,1.06],"nice":false,"zero":false},"axis":null}}},
{"data":{"name":"bars"},"transform":[{"filter":"datum.p==='Dative'"}],"mark":{"type":"bar","opacity":0.6},"encoding":{"x":{"field":"c","type":"nominal","sort":["Baseline","Priming","Imm.posttest","Del.posttest"],"scale":{"paddingInner":0.5,"paddingOuter":0.34},"axis":{"title":null,"labelAngle":0}},"y":{"field":"m","type":"quantitative","scale":{"domain":[-0.06,1.06],"nice":false,"zero":false},"axis":null},"color":{"field":"c","type":"nominal","scale":{"domain":["Baseline","Priming","Imm.posttest","Del.posttest"],"range":["#999999","#E69F00","#56B4E9","#009E73"]},"legend":null}}},
{"data":{"name":"pts"},"transform":[{"filter":"datum.p==='Dative'"}],"mark":{"type":"circle","color":"#000000","opacity":0.45,"size":19},"encoding":{"x":{"field":"c","type":"nominal","sort":["Baseline","Priming","Imm.posttest","Del.posttest"],"scale":{"paddingInner":0.5,"paddingOuter":0.34},"axis":{"title":null,"labelAngle":0}},"xOffset":{"field":"j","type":"quantitative","scale":{"domain":[-0.5,0.5],"range":[-4.75,57.25]}},"y":{"field":"y","type":"quantitative","scale":{"domain":[-0.06,1.06],"nice":false,"zero":false},"axis":null}}},
{"data":{"name":"bars"},"transform":[{"filter":"datum.p==='Dative'"}],"mark":{"type":"rule","color":"#000000","strokeWidth":2.3},"encoding":{"x":{"field":"c","type":"nominal","sort":["Baseline","Priming","Imm.posttest","Del.posttest"],"scale":{"paddingInner":0.5,"paddingOuter":0.34},"axis":{"title":null,"labelAngle":0}},"y":{"field":"lo","type":"quantitative","scale":{"domain":[-0.06,1.06],"nice":false,"zero":false},"axis":null},"y2":{"field":"hi"}}},
{"data":{"name":"bars"},"transform":[{"filter":"datum.p==='Dative'"}],"mark":{"type":"tick","color":"#000000","size":21,"thickness":2.3,"opacity":1},"encoding":{"x":{"field":"c","type":"nominal","sort":["Baseline","Priming","Imm.posttest","Del.posttest"],"scale":{"paddingInner":0.5,"paddingOuter":0.34},"axis":{"title":null,"labelAngle":0}},"y":{"field":"lo","type":"quantitative","scale":{"domain":[-0.06,1.06],"nice":false,"zero":false},"axis":null}}},
{"data":{"name":"bars"},"transform":[{"filter":"datum.p==='Dative'"}],"mark":{"type":"tick","color":"#000000","size":21,"thickness":2.3,"opacity":1},"encoding":{"x":{"field":"c","type":"nominal","sort":["Baseline","Priming","Imm.posttest","Del.posttest"],"scale":{"paddingInner":0.5,"paddingOuter":0.34},"axis":{"title":null,"labelAngle":0}},"y":{"field":"hi","type":"quantitative","scale":{"domain":[-0.06,1.06],"nice":false,"zero":false},"axis":null}}}
]}
],
"columns":2,
"bounds":"flush",
"spacing":{"row":0,"column":13},
"config":{
"font":"Liberation Sans",
"view":{"stroke":"#333333","strokeWidth":1.3},
"axis":{"domain":false,"grid":false,"tickColor":"#333333","tickSize":7,"tickWidth":1.2,"labelColor":"#4d4d4d","titleColor":"#000000","titleFontWeight":"normal"},
"axisY":{"labelFontSize":18,"titleFontSize":23,"labelPadding":6,"titlePadding":10},
"axisX":{"labelFontSize":13.5,"labelPadding":1}
}
}
